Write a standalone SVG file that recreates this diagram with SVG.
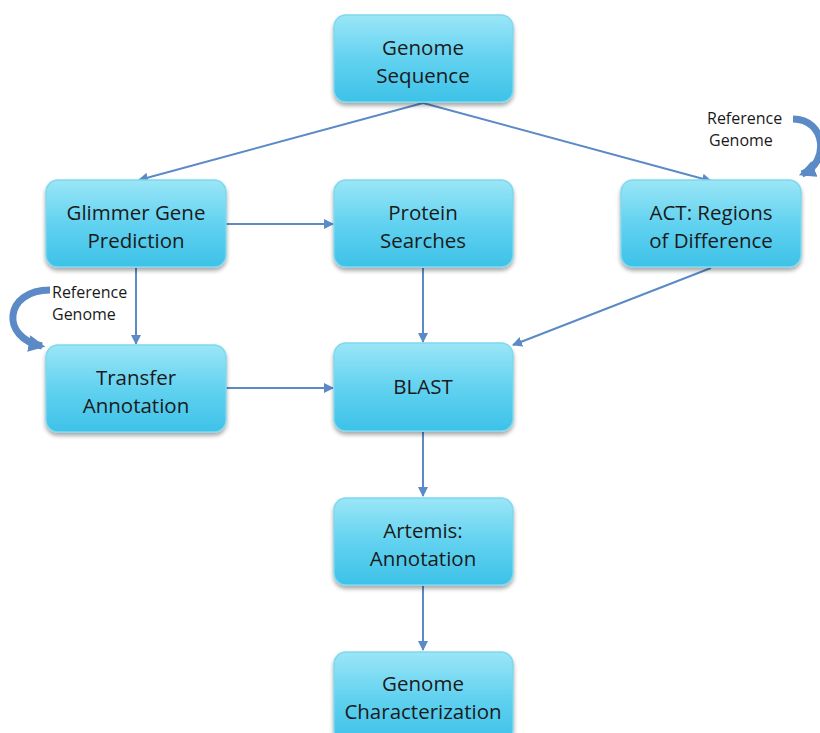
<svg xmlns="http://www.w3.org/2000/svg" width="820" height="733" viewBox="0 0 820 733">
<defs>
<linearGradient id="g" x1="0" y1="0" x2="0" y2="1">
<stop offset="0" stop-color="#9be6f7"/>
<stop offset="0.5" stop-color="#62d2f0"/>
<stop offset="1" stop-color="#3dc2e8"/>
</linearGradient>
<filter id="sh" x="-10%" y="-10%" width="120%" height="130%">
<feGaussianBlur in="SourceAlpha" stdDeviation="2"/>
<feOffset dy="3"/>
<feComponentTransfer><feFuncA type="linear" slope="0.35"/></feComponentTransfer>
<feMerge><feMergeNode/><feMergeNode in="SourceGraphic"/></feMerge>
</filter>
<marker id="ah" viewBox="0 0 10 10" refX="9" refY="5" markerWidth="5" markerHeight="5" orient="auto">
<path d="M0,0 L10,5 L0,10 z" fill="#5b8ac6"/>
</marker>
<marker id="bh" viewBox="0 0 10 10" refX="8" refY="5" markerWidth="2.4" markerHeight="2.4" orient="auto">
<path d="M0,0 L10,5 L0,10 z" fill="#5b8ac6"/>
</marker>
</defs>
<style>
.box{fill:url(#g);stroke:#7fd8ee;stroke-width:1.5;filter:url(#sh)}
.t{font-family:"Open Sans",Lato,"Liberation Sans",sans-serif;font-size:20.5px;fill:#1a1a1a;text-anchor:middle}
.s{font-family:"Open Sans",Lato,"Liberation Sans",sans-serif;font-size:16px;fill:#1a1a1a}
.c{stroke:#5b8ac6;stroke-width:2;fill:none;marker-end:url(#ah)}
.cc{stroke:#5b8ac6;stroke-width:7;fill:none;marker-end:url(#bh)}
</style>
<rect width="820" height="733" fill="#ffffff"/>
<g id="connectors">
<line class="c" x1="423" y1="103" x2="139" y2="180"/>
<line class="c" x1="423" y1="103" x2="711" y2="181"/>
<line class="c" x1="226" y1="224" x2="333" y2="224"/>
<line class="c" x1="136" y1="268" x2="136" y2="344"/>
<line class="c" x1="423" y1="268" x2="423" y2="342"/>
<line class="c" x1="711" y1="268" x2="513" y2="345"/>
<line class="c" x1="226" y1="388" x2="333" y2="388"/>
<line class="c" x1="423" y1="432" x2="423" y2="496"/>
<line class="c" x1="423" y1="586" x2="423" y2="650"/>
<path class="cc" d="M793,119 C826,119 830,163 802,174"/>
<path class="cc" d="M50,290 C4,290 0,338 42,346"/>
</g>
<g id="ref1"><text class="s" x="707" y="124">Reference</text><text class="s" x="709" y="146">Genome</text></g>
<g id="ref2"><text class="s" x="52" y="298">Reference</text><text class="s" x="52" y="320">Genome</text></g>
<g id="genome-sequence"><rect class="box" x="334" y="15" width="179" height="87" rx="12"/><text class="t" x="423" y="55">Genome</text><text class="t" x="423" y="83">Sequence</text></g>
<g id="glimmer"><rect class="box" x="46" y="180" width="180" height="87" rx="12"/><text class="t" x="136" y="220">Glimmer Gene</text><text class="t" x="136" y="248">Prediction</text></g>
<g id="protein"><rect class="box" x="334" y="180" width="179" height="87" rx="12"/><text class="t" x="423" y="220">Protein</text><text class="t" x="423" y="248">Searches</text></g>
<g id="act"><rect class="box" x="621" y="180" width="180" height="87" rx="12"/><text class="t" x="711" y="220">ACT: Regions</text><text class="t" x="711" y="248">of Difference</text></g>
<g id="transfer"><rect class="box" x="46" y="345" width="180" height="87" rx="12"/><text class="t" x="136" y="385">Transfer</text><text class="t" x="136" y="413">Annotation</text></g>
<g id="blast"><rect class="box" x="334" y="343" width="179" height="88" rx="12"/><text class="t" x="423" y="394">BLAST</text></g>
<g id="artemis"><rect class="box" x="334" y="498" width="179" height="87" rx="12"/><text class="t" x="423" y="538">Artemis:</text><text class="t" x="423" y="566">Annotation</text></g>
<g id="characterization"><rect class="box" x="334" y="652" width="179" height="90" rx="12"/><text class="t" x="423" y="691">Genome</text><text class="t" x="423" y="719">Characterization</text></g>
</svg>
